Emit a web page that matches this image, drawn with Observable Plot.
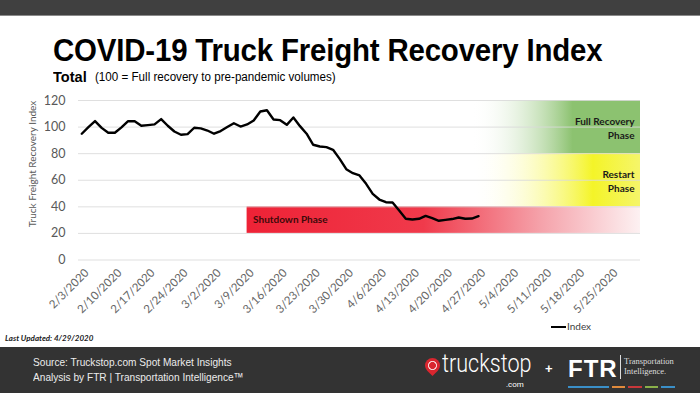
<!DOCTYPE html>
<html>
<head>
<meta charset="utf-8">
<script src="https://cdn.jsdelivr.net/npm/d3@7"></script>
<script src="https://cdn.jsdelivr.net/npm/@observablehq/plot@0.6"></script>
<style>
  html, body { margin: 0; padding: 0; background: #fff; }
  #wrap { position: relative; width: 700px; height: 393px; overflow: hidden; background: #fff; font-family: "Liberation Sans", Arial, sans-serif; }
  #topbar { position: absolute; left: 0; top: 0; width: 700px; height: 15px; background: #404040; border-bottom: 1px solid #8a8a8a; }
  #title { position: absolute; left: 53px; top: 34.4px; font-size: 32px; line-height: 32px; font-weight: bold; color: #000; white-space: nowrap; transform: scaleX(0.92); transform-origin: 0 0; letter-spacing: -0.2px; }
  #total { position: absolute; left: 53px; top: 69.3px; font-size: 15px; line-height: 15px; font-weight: bold; color: #000; white-space: nowrap; transform: scaleX(0.97); transform-origin: 0 0; }
  #paren { position: absolute; left: 95px; top: 71.4px; font-size: 12.5px; line-height: 12.5px; color: #000; white-space: nowrap; transform: scaleX(0.93); transform-origin: 0 0; }
  #ytitle { position: absolute; left: 32px; top: 164px; transform: translate(-50%, -50%) rotate(-90deg); font-family: Lato, "Open Sans", sans-serif; font-size: 10px; color: #595959; white-space: nowrap; }
  #legend { position: absolute; left: 551px; top: 319px; font-family: Lato, "Open Sans", sans-serif; font-size: 10px; color: #404040; white-space: nowrap; line-height: 14px; }
  #legend i { display: inline-block; width: 15px; height: 2px; background: #000; vertical-align: middle; margin-right: 1px; }
  #updated { position: absolute; left: 5px; top: 333px; font-family: Lato, "Open Sans", sans-serif; font-size: 8px; font-style: italic; font-weight: bold; color: #222; white-space: nowrap; }
  #footer { position: absolute; left: 0; top: 347px; width: 700px; height: 46px; background: #333333; }
  .ftxt { position: absolute; left: 33px; font-size: 11.5px; line-height: 13px; color: #ececec; white-space: nowrap; transform: scaleX(0.88); transform-origin: 0 0; }
  #pin { position: absolute; left: 425px; top: 358px; width: 15px; height: 15px; background: #d9262f; border-radius: 50% 50% 50% 0; transform: rotate(-45deg); }
  #pin::after { content: ""; position: absolute; left: 3px; top: 3px; width: 7px; height: 7px; border: 1.5px solid #fff; border-radius: 50%; }
  #ts { position: absolute; left: 442px; top: 352px; font-family: Roboto, "Liberation Sans", sans-serif; font-weight: 300; font-size: 26px; line-height: 22px; color: #fff; white-space: nowrap; transform: scaleX(0.83); transform-origin: 0 0; }
  #tscom { position: absolute; left: 506px; top: 380px; font-family: Roboto, sans-serif; font-size: 8px; line-height: 9px; color: #fff; }
  #plus { position: absolute; left: 545px; top: 361px; font-size: 13px; font-weight: bold; color: #fff; }
  #ftr { position: absolute; left: 568px; top: 358px; font-size: 24px; line-height: 22px; font-weight: bold; color: #fff; letter-spacing: 1px; }
  #ftrbar { position: absolute; left: 620px; top: 355px; width: 1px; height: 24px; background: #ddd; }
  #ftrti { position: absolute; left: 624px; top: 356px; font-family: "Liberation Serif", serif; font-size: 8.5px; line-height: 10px; color: #ddd; white-space: nowrap; }
  #ftrlines { position: absolute; left: 568px; top: 386px; height: 2px; width: 107px; display: flex; gap: 3px; }
  #ftrlines span { height: 2px; flex: 1; }
</style>
</head>
<body>
<div id="wrap">
  <div id="topbar"></div>
  <div id="title">COVID-19 Truck Freight Recovery Index</div>
  <div id="total">Total</div>
  <div id="paren">(100 = Full recovery to pre-pandemic volumes)</div>
  <div id="ytitle">Truck Freight Recovery Index</div>
  <div id="legend"><i></i>Index</div>
  <div id="updated">Last Updated: 4/29/2020</div>
  <div id="footer"></div>
  <div class="ftxt" style="top:356px">Source: Truckstop.com Spot Market Insights</div>
  <div class="ftxt" style="top:371px">Analysis by FTR | Transportation Intelligence™</div>
  <div id="pin"></div>
  <div id="ts">truckstop</div>
  <div id="tscom">.com</div>
  <div id="plus">+</div>
  <div id="ftr">FTR</div>
  <div id="ftrbar"></div>
  <div id="ftrti">Transportation<br>Intelligence.</div>
  <div id="ftrlines"><span style="background:#3a8fc8;flex:3"></span><span style="background:#e08a3c"></span><span style="background:#c8373a"></span><span style="background:#8ab04a"></span><span style="background:#3a8fc8"></span></div>
</div>
<script>
// Weekday categories (x axis)
const weekdays = [
  "2/3/2020","2/4/2020","2/5/2020","2/6/2020","2/7/2020",
  "2/10/2020","2/11/2020","2/12/2020","2/13/2020","2/14/2020",
  "2/17/2020","2/18/2020","2/19/2020","2/20/2020","2/21/2020",
  "2/24/2020","2/25/2020","2/26/2020","2/27/2020","2/28/2020",
  "3/2/2020","3/3/2020","3/4/2020","3/5/2020","3/6/2020",
  "3/9/2020","3/10/2020","3/11/2020","3/12/2020","3/13/2020",
  "3/16/2020","3/17/2020","3/18/2020","3/19/2020","3/20/2020",
  "3/23/2020","3/24/2020","3/25/2020","3/26/2020","3/27/2020",
  "3/30/2020","3/31/2020","4/1/2020","4/2/2020","4/3/2020",
  "4/6/2020","4/7/2020","4/8/2020","4/9/2020","4/10/2020",
  "4/13/2020","4/14/2020","4/15/2020","4/16/2020","4/17/2020",
  "4/20/2020","4/21/2020","4/22/2020","4/23/2020","4/24/2020",
  "4/27/2020","4/28/2020","4/29/2020","4/30/2020","5/1/2020",
  "5/4/2020","5/5/2020","5/6/2020","5/7/2020","5/8/2020",
  "5/11/2020","5/12/2020","5/13/2020","5/14/2020","5/15/2020",
  "5/18/2020","5/19/2020","5/20/2020","5/21/2020","5/22/2020",
  "5/25/2020","5/26/2020","5/27/2020","5/28/2020","5/29/2020"
];

// Index series, one value per weekday starting 2/3/2020
const indexValues = [
  95, 100, 104.5, 99.4, 95.7, 95.7, 99.8, 104.4, 104.4, 101,
  101.5, 102, 106, 101, 96.7, 94.2, 94.7, 99.5, 99, 97.4,
  95, 97, 100, 102.9, 100.4, 102, 105, 111.7, 112.7, 105.7,
  105.2, 101.7, 107.2, 100.7, 95, 86.7, 85.4, 84.9, 82.9, 76.1,
  68.3, 65.3, 63.6, 57.3, 49.8, 45.5, 43.5, 43.3, 37.2, 31,
  30.5, 31, 33.2, 31.5, 29.5, 30.2, 30.8, 32, 31, 31.2,
  33
];

// Tick labels
const xTickLabels = ["2/3/2020","2/10/2020","2/17/2020","2/24/2020","3/2/2020","3/9/2020","3/16/2020","3/23/2020","3/30/2020","4/6/2020","4/13/2020","4/20/2020","4/27/2020","5/4/2020","5/11/2020","5/18/2020","5/25/2020"];
const yTicks = [0, 20, 40, 60, 80, 100, 120];

// Phase bands
const phaseLabels = ["Full Recovery\nPhase", "Restart\nPhase", "Shutdown Phase"];
const phaseLow = [80, 40, 20];
const phaseHigh = [120, 80, 40];
const phaseStart = ["4/24/2020", "4/24/2020", "3/9/2020"];

const seriesName = "Index";

// ---- build ----
const lineData = indexValues.map((v, i) => ({ i, v }));
const xEnd = weekdays.length - 0.5;
const phases = phaseLabels.map((label, k) => ({
  label, low: phaseLow[k], high: phaseHigh[k], start: weekdays.indexOf(phaseStart[k])
}));
const gradIds = ["gGreen", "gYellow", "gRed"];

const bandMarks = phases.map((p, k) =>
  Plot.rect([p], { x1: d => d.start, x2: () => xEnd, y1: d => d.low, y2: d => d.high, fill: `url(#${gradIds[k]})` })
);

const svg = Plot.plot({
  width: 700,
  height: 393,
  marginTop: 100,
  marginBottom: 133.5,
  marginLeft: 78,
  marginRight: 60,
  style: { background: "transparent", fontFamily: "Lato, 'Open Sans', sans-serif", color: "#595959", overflow: "visible" },
  x: { type: "linear", domain: [-0.5, xEnd] },
  y: { domain: [0, 120] },
  marks: [
    ...bandMarks,
    Plot.ruleY(yTicks, { stroke: "#d9d9d9", strokeWidth: 1, strokeOpacity: 0.85 }),
    Plot.text([phases[0], phases[1]], {
      x: () => xEnd, y: d => (d.low + d.high) / 2, text: d => d.label,
      textAnchor: "end", dx: -6, fontWeight: "bold", fontSize: 10, lineHeight: 1.4, fill: "#1a1a1a"
    }),
    Plot.text([phases[2]], {
      x: d => d.start, y: d => (d.low + d.high) / 2, text: d => d.label,
      textAnchor: "start", dx: 6, fontWeight: "bold", fontSize: 10, fill: "#3d0a0a"
    }),
    Plot.line(lineData, { x: "i", y: "v", stroke: "#000", strokeWidth: 2.4, strokeLinejoin: "round", title: () => seriesName }),
    Plot.axisY({ ticks: yTicks, tickSize: 0, tickPadding: 13, fontSize: 12.5, label: null }),
    Plot.axisX({
      ticks: xTickLabels.map(d => weekdays.indexOf(d)),
      tickFormat: i => weekdays[i],
      tickRotate: -45, tickSize: 0, tickPadding: 11, dx: 5, fontSize: 11.5, fill: "#666", label: null
    })
  ]
});

svg.style.position = "absolute";
svg.style.left = "0px";
svg.style.top = "0px";

const defs = d3.select(svg).insert("defs", ":first-child");
function grad(id, stops) {
  const g = defs.append("linearGradient").attr("id", id)
    .attr("x1", "0").attr("y1", "0").attr("x2", "1").attr("y2", "0");
  stops.forEach(([o, c, op]) => g.append("stop").attr("offset", o).attr("stop-color", c).attr("stop-opacity", op));
}
grad("gGreen", [["0", "#ffffff", 0], ["0.6", "#8cc270", 1], ["1", "#8cc270", 1]]);
grad("gYellow", [["0", "#ffffff", 0], ["0.72", "#f4f428", 1], ["1", "#f5f56a", 1]]);
grad("gRed", [["0", "#ee2236", 1], ["0.45", "#f03a4b", 1], ["0.75", "#f5a3ab", 1], ["1", "#fdf1f2", 1]]);

const wrap = document.getElementById("wrap");
wrap.insertBefore(svg, document.getElementById("ytitle"));
</script>
</body>
</html>
